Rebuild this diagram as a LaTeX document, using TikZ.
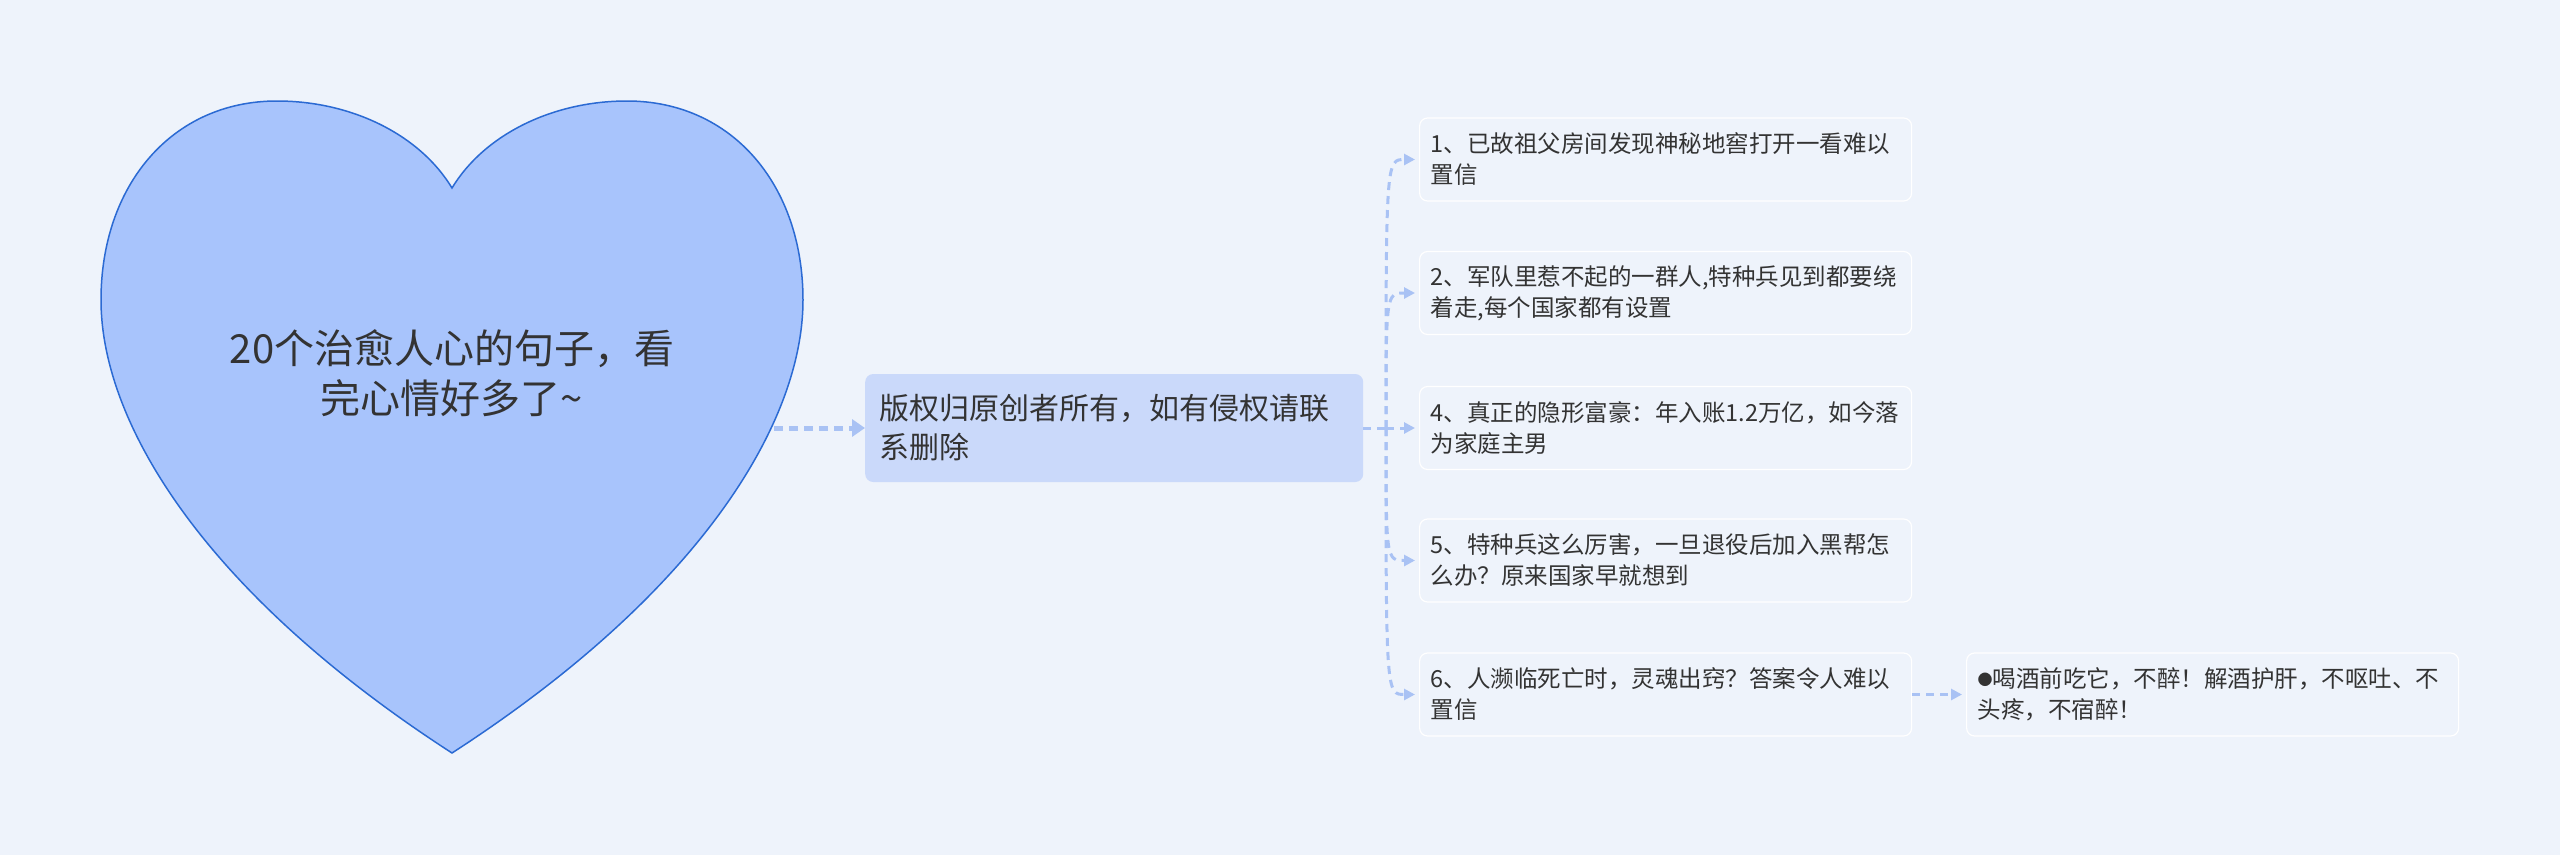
\documentclass[tikz,border=0pt]{standalone}
\usepackage{fontspec}
\setmainfont{Noto Sans CJK SC}
\usetikzlibrary{arrows.meta}
\definecolor{bg}{HTML}{EEF3FB}
\definecolor{heartfill}{HTML}{A8C4FC}
\definecolor{heartline}{HTML}{2B6AD3}
\definecolor{rootfill}{HTML}{CAD9FA}
\definecolor{conn}{HTML}{A9C2F4}
\definecolor{txt}{HTML}{333333}
\begin{document}
\begin{tikzpicture}[x=1pt,y=-1pt,
  leaf/.style={draw=white, line width=1.2pt, fill=bg, rounded corners=8pt, minimum height=83pt, text width=470pt, inner xsep=11pt, align=left, anchor=west, font=\fontsize{23.5}{31}\selectfont, text=txt},
  rootbox/.style={fill=rootfill, rounded corners=8pt, minimum height=108pt, text width=470pt, inner xsep=14pt, align=left, anchor=west, font=\fontsize{30}{39}\selectfont, text=txt},
  link/.style={draw=conn, line width=3pt, dash pattern=on 8pt off 6pt, -{Triangle[length=11pt,width=11pt]}},
  mainlink/.style={draw=conn, line width=5pt, dash pattern=on 9pt off 6pt, -{Triangle[length=13pt,width=17pt]}}
]
\fill[bg] (0,0) rectangle (2560,855);
\useasboundingbox (0,0) rectangle (2560,855);
\draw[heartline, fill=heartfill, line width=1.5pt]
  (452,188) .. controls (420,135) and (352,101) .. (277,101)
  .. controls (172,101) and (101,185) .. (101,300)
  .. controls (101,420) and (200,590) .. (452,753)
  .. controls (704,590) and (803,420) .. (803,300)
  .. controls (803,185) and (732,101) .. (627,101)
  .. controls (552,101) and (484,135) .. (452,188) -- cycle;
\node[font=\fontsize{40}{50}\selectfont, text=txt, align=center] (heart) at (452,373) {20个治愈人心的句子，看\\完心情好多了\textasciitilde};
\coordinate (heartR) at (774,428);

\node[rootbox] (root) at (865,428) {版权归原创者所有，如有侵权请联\\系删除};

\node[leaf] (c1) at (1419,159.5) {1、已故祖父房间发现神秘地窖打开一看难以\\置信};
\node[leaf] (c2) at (1419,293) {2、军队里惹不起的一群人,特种兵见到都要绕\\着走,每个国家都有设置};
\node[leaf] (c4) at (1419,428) {4、真正的隐形富豪：年入账1.2万亿，如今落\\为家庭主男};
\node[leaf] (c5) at (1419,560.5) {5、特种兵这么厉害，一旦退役后加入黑帮怎\\么办？原来国家早就想到};
\node[leaf] (c6) at (1419,694.5) {6、人濒临死亡时，灵魂出窍？答案令人难以\\置信};
\node[leaf] (g) at (1966,694.5) {\raisebox{2pt}{\fontsize{15}{15}\selectfont ●}喝酒前吃它，不醉！解酒护肝，不呕吐、不\\头疼，不宿醉！};

\draw[mainlink] (heartR) -- (root.west);
\coordinate (br) at (1386,428);
\draw[link, -] (root.east) -- (br);
\foreach \c in {c1,c2,c5,c6}
  \draw[link, shorten >=4pt] (br) .. controls (br |- \c.west) .. (\c.west);
\draw[link, shorten >=4pt] (br) -- (c4.west);
\draw[link, shorten >=4pt] (c6.east) -- (g.west);
\end{tikzpicture}
\end{document}
